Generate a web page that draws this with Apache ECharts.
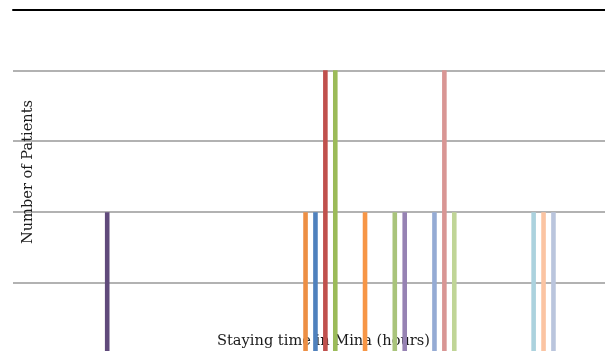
<!DOCTYPE html>
<html>
<head>
<meta charset="utf-8">
<script src="https://cdn.jsdelivr.net/npm/echarts@6/dist/echarts.min.js"></script>
<style>
  html, body { margin: 0; padding: 0; background: #fff; }
  #chart { width: 605px; height: 351px; }
</style>
</head>
<body>
<div id="chart"></div>
<script>
// Hours spent in Mina (one slot per hour)
const hours = Array.from({ length: 60 }, (_, i) => String(i + 1));

// Patients per staying time: [hour, count]
const patientCounts = [
  [10, 2], [30, 2], [31, 2], [32, 4], [33, 4], [36, 2], [39, 2],
  [40, 2], [43, 2], [44, 4], [45, 2], [53, 2], [54, 2], [55, 2]
];

// One colour per bar
const barColors = [
  '#604a7b', '#ed8f44', '#4f81bd', '#c0504d', '#9bbb59', '#f79646', '#a9c47b',
  '#9682b3', '#95abd4', '#d99694', '#c0d597', '#abd2de', '#fbc4a2', '#bac5dd'
];

const values = hours.map(() => null);
patientCounts.forEach(([h, n], k) => {
  values[h - 1] = { value: n, itemStyle: { color: barColors[k] } };
});

const chart = echarts.init(document.getElementById('chart'), null, { renderer: 'canvas' });
chart.setOption({
  animation: false,
  backgroundColor: '#fff',
  grid: {
    left: 13, right: -3, top: 10, bottom: -3,
    containLabel: false,
    outerBoundsMode: 'none'
  },
  xAxis: [
    {
      type: 'category',
      data: hours,
      name: 'Staying time in Mina (hours)',
      nameLocation: 'middle',
      nameGap: -20,
      nameTextStyle: {
        fontFamily: 'DejaVu Serif', fontSize: 14.6, color: '#1a1a1a',
        padding: [0, 0, 0, 26]
      },
      axisLine: { show: false },
      axisTick: { show: false },
      axisLabel: { show: false }
    },
    {
      type: 'category',
      data: hours,
      position: 'top',
      axisLine: { show: true, lineStyle: { color: '#000', width: 2 } },
      axisTick: { show: false },
      axisLabel: { show: false }
    }
  ],
  yAxis: {
    type: 'value',
    min: 0,
    max: 4.85,
    interval: 1,
    name: 'Number of Patients',
    nameLocation: 'middle',
    nameGap: -23,
    nameTextStyle: {
      fontFamily: 'DejaVu Serif', fontSize: 14.6, color: '#1a1a1a',
      padding: [0, 0, 0, 20]
    },
    axisLine: { show: false },
    axisTick: { show: false },
    axisLabel: { show: false },
    splitLine: { show: true, lineStyle: { color: '#999', width: 1.5 } }
  },
  series: [{
    type: 'bar',
    data: values,
    barWidth: 4.6,
    xAxisIndex: 0
  }]
});
</script>
</body>
</html>
